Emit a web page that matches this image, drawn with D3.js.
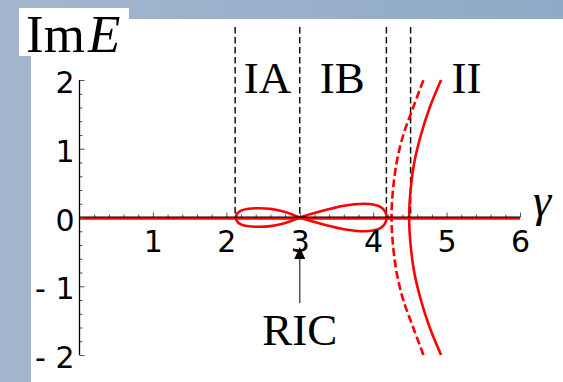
<!DOCTYPE html>
<html><head><meta charset="utf-8">
<script src="https://cdn.jsdelivr.net/npm/d3@7"></script>
<style>body{margin:0;overflow:hidden;background:#fff}svg{display:block}</style>
</head><body>
<svg id="chart" width="563" height="382"></svg>
<script>
// Left lobe of the figure-eight (region I), upper half: [gamma, Im E]
const lobeA = [[2.13,0],[2.15,0.06],[2.2,0.1],[2.3,0.128],[2.45,0.135],[2.6,0.125],[2.75,0.095],[2.88,0.05],[3.0,0]];
// Right lobe of the figure-eight, upper half: [gamma, Im E]
const lobeB = [[3.0,0],[3.15,0.05],[3.3,0.095],[3.45,0.135],[3.6,0.17],[3.75,0.192],[3.88,0.2],[4.0,0.19],[4.1,0.155],[4.16,0.09],[4.185,0]];
// Region II branches, upper half: [Im E, gamma]
const branchSolid  = [[0,4.49],[0.4,4.51],[0.8,4.56],[1.2,4.65],[1.6,4.77],[2.0,4.925]];
const branchDashed = [[0,4.25],[0.4,4.27],[0.8,4.32],[1.2,4.41],[1.6,4.545],[2.0,4.685]];
// Real eigenvalues: Im E = 0 along the whole range
const realLine = [[0,0],[6,0]];
// Region boundaries (gamma) and their names
const boundaries = [2.12, 3.0, 4.18, 4.51];
const regionNames = ["IA", "IB", "II"];
// Axis ticks
const xTicks = [1,2,3,4,5,6];
const xTickLabels = ["1","2","3","4","5","6"];
const yTicks = [-2,-1,0,1,2];
const yTickLabels = ["- 2","- 1","0","1","2"];

const svg = d3.select("#chart");
const W = 563, H = 382;

// backdrop
const defs = svg.append("defs");
const grad = defs.append("linearGradient").attr("id","bg").attr("x1","0").attr("x2","1").attr("y1","0").attr("y2","0");
grad.append("stop").attr("offset","0").attr("stop-color","#a3b6cd");
grad.append("stop").attr("offset","1").attr("stop-color","#8eaac8");
svg.append("rect").attr("width",W).attr("height",H).attr("fill","url(#bg)");
svg.append("rect").attr("x",31).attr("y",19).attr("width",W-31).attr("height",H-19).attr("fill","#fff");
svg.append("rect").attr("x",19).attr("y",8).attr("width",110).attr("height",48).attr("fill","#fff");

const x = d3.scaleLinear().domain([0,6]).range([79.5,520]);
const y = d3.scaleLinear().domain([-2,2]).range([355,80]);

const line = d3.line().x(d=>x(d[0])).y(d=>y(d[1])).curve(d3.curveCatmullRom.alpha(0.5));
const neg = ([g,v]) => [g,-v];

// region boundaries
const yTop = 2.77;
svg.append("g").selectAll("line").data(boundaries).join("line")
  .attr("x1",d=>x(d)).attr("x2",d=>x(d)).attr("y1",y(yTop)).attr("y2",y(0))
  .attr("stroke","#111").attr("stroke-width",1.5).attr("stroke-dasharray","6.5,3.5");

// red curves
const red = svg.append("g").attr("fill","none").attr("stroke","#ff0000");
red.append("path").datum(realLine).attr("d",d3.line().x(d=>x(d[0])).y(d=>y(d[1])+1.2))
  .attr("stroke-width",2.2);
[lobeA, lobeB].forEach(lobe => {
  const pts = lobe[0][0] === 3.0
    ? lobe.concat(lobe.slice(0,-1).reverse().map(neg))
    : lobe.slice().reverse().concat(lobe.slice(1).map(neg));
  red.append("path").datum(pts).attr("d",line).attr("stroke-width",2.6);
});
const branchPts = b => b.slice(1).reverse().map(([v,g])=>[g,-v]).concat(b.map(([v,g])=>[g,v]));
red.append("path").datum(branchPts(branchSolid)).attr("d",line).attr("stroke-width",2.6);
red.append("path").datum(branchPts(branchDashed)).attr("d",line).attr("stroke-width",2.6)
  .attr("stroke-dasharray","8,3.5");

// axes
const minor = d3.range(0,30).map(i=>i*0.2).filter(v=>Math.abs(v-Math.round(v))>1e-6);
const minorY = d3.range(-10,11).map(i=>i*0.2).filter(v=>Math.abs(v-Math.round(v))>1e-6);
const styleAxis = g => { g.select(".domain").remove(); g.selectAll(".tick line").attr("stroke","#555").attr("stroke-width",1); };

const xAxisY = y(0);
svg.append("g").attr("transform",`translate(0,${xAxisY})`)
  .call(d3.axisTop(x).tickValues(minor).tickSize(3).tickFormat("")).call(styleAxis);
svg.append("g").attr("transform",`translate(0,${xAxisY})`)
  .call(d3.axisTop(x).tickValues(xTicks).tickSize(5).tickFormat("")).call(styleAxis);
svg.append("line").attr("x1",x(0)).attr("x2",x(6)).attr("y1",xAxisY-0.3).attr("y2",xAxisY-0.3)
  .attr("stroke","#000").attr("stroke-width",1.3);
const xl = svg.append("g").attr("transform",`translate(0,${xAxisY})`)
  .call(d3.axisBottom(x).tickValues(xTicks).tickSize(0).tickPadding(13).tickFormat((d,i)=>xTickLabels[i]));
xl.select(".domain").remove();
xl.selectAll("text").attr("font-family","DejaVu Sans").attr("font-size",30).attr("fill","#000");

const yAxisX = x(0);
svg.append("g").attr("transform",`translate(${yAxisX},0)`)
  .call(d3.axisRight(y).tickValues(minorY).tickSize(3).tickFormat("")).call(styleAxis);
svg.append("g").attr("transform",`translate(${yAxisX},0)`)
  .call(d3.axisRight(y).tickValues(yTicks).tickSize(5).tickFormat("")).call(styleAxis);
svg.append("line").attr("x1",yAxisX).attr("x2",yAxisX).attr("y1",y(-2)).attr("y2",y(2))
  .attr("stroke","#000").attr("stroke-width",1.3);
const yl = svg.append("g").attr("transform",`translate(${yAxisX},0)`)
  .call(d3.axisLeft(y).tickValues(yTicks).tickSize(0).tickPadding(5).tickFormat((d,i)=>yTickLabels[i]));
yl.select(".domain").remove();
yl.selectAll("text").attr("font-family","DejaVu Sans").attr("font-size",30).attr("fill","#000")
  .attr("dy","0.42em").style("white-space","pre");

// region names
const serif = "Liberation Serif";
const regionAt = [2.56, 3.58, 5.27];
svg.append("g").selectAll("text").data(regionNames).join("text")
  .attr("x",(d,i)=>x(regionAt[i])).attr("y",y(1.81)).attr("text-anchor","middle")
  .attr("font-family",serif).attr("font-size",45).text(d=>d);

// axis titles
const t = svg.append("text").attr("x",26).attr("y",52).attr("font-family",serif).attr("font-size",53);
t.append("tspan").text("Im");
t.append("tspan").attr("dx",3).attr("font-style","italic").text("E");
svg.append("text").attr("x",533).attr("y",216).attr("font-family",serif).attr("font-size",46)
  .attr("font-style","italic").text("γ");

// RIC marker
const ax = x(3.0);
svg.append("line").attr("x1",ax).attr("x2",ax).attr("y1",303).attr("y2",258)
  .attr("stroke","#555").attr("stroke-width",1.5);
svg.append("path").attr("d",`M${ax},247 L${ax-5.5},259 L${ax+5.5},259 Z`).attr("fill","#000");
svg.append("text").attr("x",ax).attr("y",345).attr("text-anchor","middle")
  .attr("font-family",serif).attr("font-size",45).text("RIC");
</script>
</body></html>
